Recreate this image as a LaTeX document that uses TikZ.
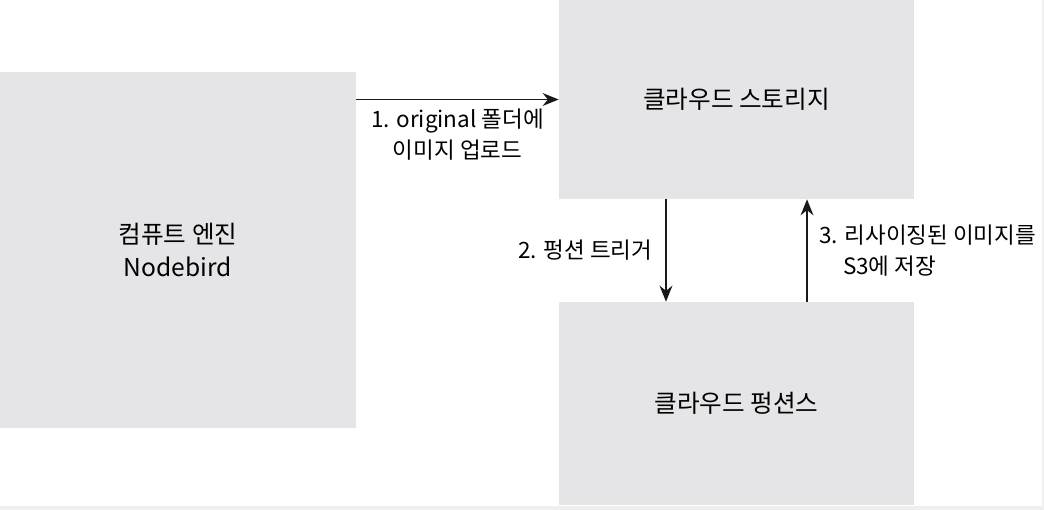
\documentclass[tikz,border=0pt]{standalone}
\usepackage{fontspec}
\usetikzlibrary{arrows.meta}
\newfontfamily\krfont{Noto Sans CJK KR}
\definecolor{boxgray}{RGB}{229,229,231}
\definecolor{edgegray}{RGB}{239,239,239}

\begin{document}
\begin{tikzpicture}[x=0.025cm, y=-0.025cm,
  box/.style={fill=boxgray, inner sep=0pt, align=center, minimum width=8.875cm,
    font=\krfont\fontsize{17.5}{23.5}\selectfont},
  flow/.style={draw=black!90, line width=1.4pt, -{Stealth[length=4mm, width=3.2mm]}},
  lbl/.style={font=\krfont\fontsize{16}{22}\selectfont, inner sep=0pt}]
% Frame in pixel units (1044 x 510)
\def\armoff{1.7625cm}
\useasboundingbox (0,0) rectangle (1044,510);
\fill[edgegray] (0,506) rectangle (1044,510);
\fill[edgegray] (1042,0) rectangle (1044,510);
% Boxes
\node[box, minimum width=8.9cm, minimum height=8.9cm] (compute) at (178,250) {컴퓨트 엔진\\Nodebird};
\node[box, minimum height=4.975cm] (storage) at (736.5,99.5) {클라우드 스토리지};
\node[box, minimum height=5.075cm] (function) at (736.5,403.5) {클라우드 펑션스};
% Arrows and their labels
\draw[flow] (compute.north east |- storage.west) -- (storage.west)
  node[lbl, midway, below=6pt, align=center] (upload) {1. original 폴더에\\이미지 업로드};
\draw[flow] ([xshift=-\armoff]storage.south) -- ([xshift=-\armoff]function.north)
  node[lbl, midway, left=9pt] (trigger) {2. 펑션 트리거};
\draw[flow] ([xshift=\armoff]function.north) -- ([xshift=\armoff]storage.south)
  node[lbl, midway, right=8pt, align=left] (resize) {3. 리사이징된 이미지를\\\phantom{3.}\ S3에 저장};
\end{tikzpicture}
\end{document}
